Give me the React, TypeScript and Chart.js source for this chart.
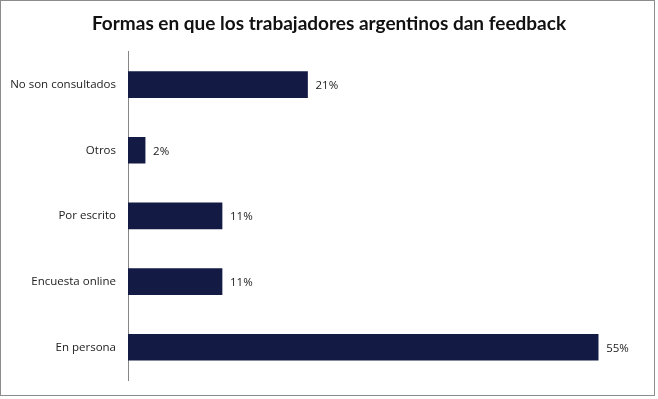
import React, { useEffect, useRef } from "react";
import { Chart, registerables } from "chart.js";

Chart.register(...registerables);

const categories = ["No son consultados", "Otros", "Por escrito", "Encuesta online", "En persona"];
const values = [21, 2, 11, 11, 55];
const titleText = "Formas en que los trabajadores argentinos dan feedback";
const barColor = "#131b45";

const frame = {
  id: "frame",
  beforeDraw(chart: any) {
    const { ctx } = chart;
    ctx.save();
    ctx.fillStyle = "#ffffff";
    ctx.fillRect(0, 0, chart.width, chart.height);
    ctx.strokeStyle = "#8c8c8c";
    ctx.lineWidth = 1;
    ctx.strokeRect(0.5, 0.5, 654, 395);
    ctx.restore();
  },
};

const valueLabels = {
  id: "valueLabels",
  afterDatasetsDraw(chart: any) {
    const { ctx } = chart;
    const meta = chart.getDatasetMeta(0);
    ctx.save();
    ctx.font = "11.5px 'Open Sans'";
    ctx.fillStyle = "#222222";
    ctx.textAlign = "left";
    ctx.textBaseline = "middle";
    meta.data.forEach((bar: any, i: number) => {
      ctx.fillText(values[i] + "%", bar.x + 8, bar.y + 1);
    });
    ctx.restore();
  },
};

export default function App() {
  const ref = useRef<HTMLCanvasElement | null>(null);
  useEffect(() => {
    document.body.style.margin = "0";
    const chart = new Chart(ref.current as HTMLCanvasElement, {
      type: "bar",
      data: {
        labels: categories,
        datasets: [
          {
            data: values,
            backgroundColor: barColor,
            barThickness: 26,
          },
        ],
      },
      options: {
        indexAxis: "y",
        animation: false,
        responsive: false,
        maintainAspectRatio: false,
        layout: { padding: { top: 0, right: 0, bottom: 18, left: 0 } },
        plugins: {
          legend: { display: false },
          tooltip: { enabled: false },
          title: {
            display: true,
            text: titleText,
            color: "#111111",
            font: { family: "Lato", size: 19, weight: "bold" },
            padding: { top: 12, bottom: 17 },
          },
        },
        scales: {
          x: { display: false, min: 0, max: 62 },
          y: {
            grid: { display: false, drawTicks: false },
            border: { display: true, color: "#868686" },
            ticks: {
              color: "#222222",
              padding: 12,
              font: { family: "Open Sans", size: 11.5 },
            },
            afterFit(scale: any) {
              scale.width = 128;
            },
          },
        },
      },
      plugins: [frame, valueLabels],
    });
    return () => chart.destroy();
  }, []);
  return <canvas ref={ref} width={658} height={399} style={{ display: "block" }} />;
}
